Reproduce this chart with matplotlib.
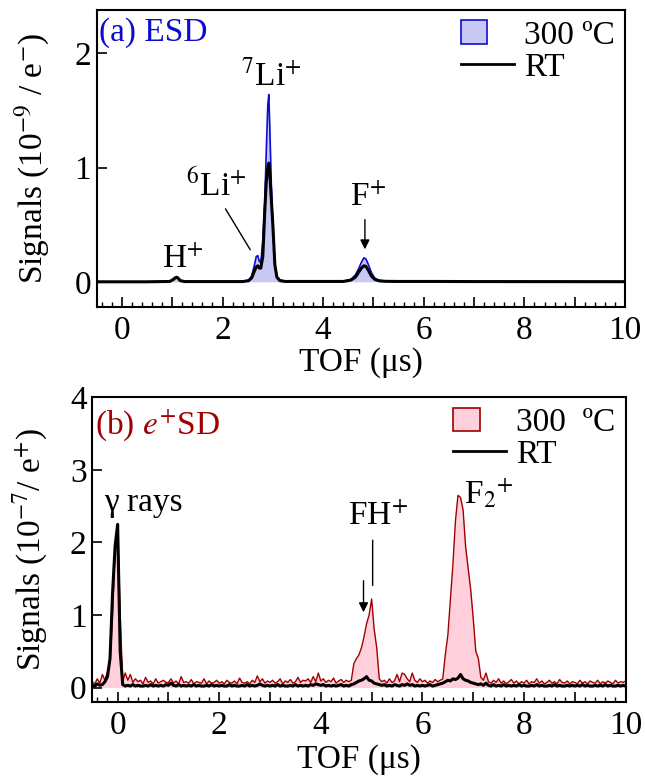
import numpy as np
import matplotlib
matplotlib.use("Agg")
import matplotlib.pyplot as plt
import matplotlib.patches as mpatches
from matplotlib.lines import Line2D
from matplotlib.legend_handler import HandlerPatch
from matplotlib.ticker import MultipleLocator, FuncFormatter

plt.rcParams['font.family'] = ['Liberation Serif', 'DejaVu Serif']
plt.rcParams['mathtext.fontset'] = 'stix'

# ---- (a) ESD spectra ----
tof_a = [-0.5, 0.5, 0.95, 1.02, 1.06, 1.09, 1.12, 1.16, 1.25, 2.4, 2.52, 2.58, 2.63,
         2.67, 2.70, 2.73, 2.76, 2.80, 2.84, 2.87, 2.90, 2.92, 2.94, 2.97, 3.00, 3.04,
         3.08, 3.14, 3.25, 4.4, 4.55, 4.64, 4.70, 4.76, 4.81, 4.85, 4.90, 4.96, 5.03,
         5.12, 5.25, 5.5, 6.3, 7.0, 10.0]
esd_300 = [0, 0, 0.003, 0.02, 0.035, 0.042, 0.03, 0.01, 0.002, 0.002, 0.015, 0.05, 0.14,
           0.22, 0.23, 0.18, 0.17, 0.35, 0.7, 1.15, 1.55, 1.64, 1.35, 0.85, 0.5, 0.15,
           0.05, 0.015, 0.004, 0.004, 0.02, 0.06, 0.11, 0.17, 0.21, 0.2, 0.15, 0.08, 0.03,
           0.012, 0.006, 0.004, 0.004, 0.002, 0.001]
esd_rt = [0, 0, 0.003, 0.02, 0.035, 0.04, 0.03, 0.01, 0.002, 0.002, 0.01, 0.035, 0.09,
          0.13, 0.14, 0.12, 0.12, 0.22, 0.62, 0.88, 1.0, 1.04, 0.95, 0.72, 0.5, 0.15,
          0.04, 0.01, 0.003, 0.003, 0.015, 0.04, 0.08, 0.12, 0.14, 0.135, 0.1, 0.05, 0.02,
          0.008, 0.004, 0.003, 0.003, 0.002, 0.001]

# ---- (b) e+SD spectra, sampled every 0.05 us from -0.5 to 10 ----
tof_b = np.round(np.arange(-0.5, 10.001, 0.05), 2)
esd_b_300 = [
    0.08, 0.05, 0.12, 0.06, 0.18, 0.1, 0.22, 0.35, 1.0, 1.9,
    2.25, 1.0, 0.08, 0.2, 0.1, 0.18, 0.07, 0.12, 0.08, 0.1, 0.05, 0.14, 0.07, 0.09, 0.05, 0.12, 0.06, 0.08, 0.1, 0.07,
    0.07, 0.12, 0.06, 0.09, 0.05, 0.15, 0.07, 0.08, 0.06, 0.11, 0.05, 0.08, 0.07, 0.06, 0.12, 0.05, 0.09, 0.06, 0.07, 0.1,
    0.06, 0.08, 0.05, 0.1, 0.07, 0.06, 0.09, 0.05, 0.13, 0.07, 0.06, 0.08, 0.05, 0.1, 0.07, 0.16, 0.08, 0.12, 0.06, 0.09,
    0.07, 0.1, 0.06, 0.08, 0.12, 0.05, 0.09, 0.07, 0.11, 0.06, 0.08, 0.14, 0.07, 0.1, 0.09, 0.12, 0.07, 0.15, 0.08, 0.2,
    0.09, 0.12, 0.07, 0.1, 0.08, 0.13, 0.06, 0.09, 0.11, 0.07, 0.1, 0.08, 0.1, 0.33, 0.4, 0.45, 0.55, 0.7, 0.88, 1.0,
    1.22, 0.8, 0.55, 0.12, 0.08, 0.1, 0.06, 0.12, 0.07, 0.09, 0.18, 0.08, 0.2, 0.18, 0.12, 0.08, 0.2, 0.1, 0.07, 0.12,
    0.08, 0.1, 0.06, 0.09, 0.07, 0.11, 0.08, 0.1, 0.12, 0.45, 0.72, 1.2, 1.7, 2.3, 2.65, 2.62, 2.45, 1.94, 1.65, 1.35,
    0.95, 0.5, 0.4, 0.14, 0.1, 0.2, 0.08, 0.06, 0.1, 0.07, 0.12, 0.06, 0.09, 0.05, 0.08, 0.11, 0.06, 0.09, 0.05, 0.08,
    0.06, 0.1, 0.05, 0.08, 0.07, 0.12, 0.06, 0.09, 0.05, 0.07, 0.1, 0.06, 0.08, 0.05, 0.11, 0.07, 0.06, 0.09, 0.05, 0.08,
    0.07, 0.05, 0.1, 0.06, 0.08, 0.05, 0.09, 0.07, 0.06, 0.1, 0.05, 0.08, 0.06, 0.09, 0.07, 0.05, 0.1, 0.06, 0.08, 0.07,
    0.09]
esd_b_rt = [
    0.03, 0.02, 0.05, 0.03, 0.04, 0.08, 0.15, 0.4, 1.3, 1.95,
    2.25, 0.5, 0.04, 0.02, 0.03, 0.02, 0.04, 0.02, 0.03, 0.02, 0.02, 0.03, 0.02, 0.04, 0.02, 0.03, 0.02, 0.03, 0.02, 0.04,
    0.03, 0.06, 0.03, 0.02, 0.04, 0.02, 0.03, 0.02, 0.03, 0.02, 0.04, 0.02, 0.03, 0.02, 0.02, 0.03, 0.02, 0.04, 0.02, 0.03,
    0.02, 0.03, 0.02, 0.02, 0.04, 0.02, 0.03, 0.02, 0.02, 0.03, 0.02, 0.04, 0.02, 0.03, 0.02, 0.03, 0.05, 0.03, 0.02, 0.03,
    0.02, 0.03, 0.02, 0.04, 0.02, 0.03, 0.02, 0.02, 0.03, 0.02, 0.04, 0.02, 0.03, 0.02, 0.03, 0.02, 0.04, 0.03, 0.05, 0.04,
    0.03, 0.04, 0.02, 0.03, 0.02, 0.03, 0.02, 0.03, 0.04, 0.02, 0.03, 0.02, 0.04, 0.05, 0.07, 0.09, 0.1, 0.12, 0.15, 0.1,
    0.09, 0.06, 0.05, 0.04, 0.03, 0.04, 0.02, 0.03, 0.02, 0.04, 0.03, 0.02, 0.04, 0.03, 0.05, 0.03, 0.04, 0.02, 0.03, 0.02,
    0.03, 0.02, 0.03, 0.04, 0.02, 0.03, 0.04, 0.05, 0.06, 0.08, 0.1, 0.09, 0.12, 0.11, 0.13, 0.18, 0.12, 0.1, 0.09, 0.07,
    0.06, 0.05, 0.04, 0.05, 0.03, 0.06, 0.03, 0.02, 0.04, 0.02, 0.03, 0.02, 0.04, 0.02, 0.03, 0.02, 0.03, 0.02, 0.04, 0.02,
    0.03, 0.02, 0.02, 0.03, 0.02, 0.04, 0.02, 0.03, 0.02, 0.02, 0.03, 0.02, 0.04, 0.02, 0.03, 0.02, 0.02, 0.03, 0.02, 0.03,
    0.02, 0.03, 0.02, 0.04, 0.02, 0.03, 0.02, 0.02, 0.03, 0.02, 0.03, 0.02, 0.04, 0.02, 0.03, 0.02, 0.02, 0.03, 0.02, 0.03,
    0.02]

legend_labels_a = ['300 ºC', 'RT']
legend_labels_b = ['300  ºC', 'RT']

FS = 24
blue_fill, blue_line = '#c8c8f5', '#0c0cd0'
red_fill, red_line = '#ffcfdc', '#a00000'


def narrow_box(legend, orig_handle, xdescent, ydescent, width, height, fontsize):
    return mpatches.Rectangle((-xdescent, -ydescent), width * 0.5, height)


def style_axes(ax, ylim):
    ax.set_xlim(-0.5, 10)
    ax.set_ylim(*ylim)
    ax.xaxis.set_major_locator(MultipleLocator(1))
    ax.xaxis.set_minor_locator(MultipleLocator(0.2))
    ax.xaxis.set_major_formatter(FuncFormatter(lambda v, p: f'{v:.0f}' if round(v) % 2 == 0 else ''))
    ax.yaxis.set_major_locator(MultipleLocator(1))
    ax.tick_params(axis='x', which='major', direction='in', length=7, width=1.2, labelsize=FS, pad=6)
    ax.tick_params(axis='x', which='minor', direction='in', length=3.5, width=1.0)
    ax.tick_params(axis='y', which='major', direction='in', length=7, width=1.2, labelsize=FS, pad=4)
    for s in ax.spines.values():
        s.set_linewidth(1.5)
    ax.set_xlabel('TOF (μs)', fontsize=FS)


def add_legend(ax, fill, edge, labels):
    patch = mpatches.Patch(facecolor=fill, edgecolor=edge, linewidth=1.2)
    line = Line2D([], [], color='black', linewidth=2)
    ax.legend([patch, line], labels, loc='upper right', frameon=False, fontsize=FS,
              handlelength=1.6, handletextpad=0.3, labelspacing=0.05,
              borderaxespad=0.1, borderpad=0.2,
              handler_map={mpatches.Patch: HandlerPatch(patch_func=narrow_box)})


fig = plt.figure(figsize=(6.45, 7.77), dpi=100)

# ---------------- panel (a) ----------------
ax1 = fig.add_axes([0.150, 0.605, 0.819, 0.382])
ax1.fill_between(tof_a, 0, esd_300, color=blue_fill, linewidth=0)
ax1.plot(tof_a, esd_300, color=blue_line, linewidth=1.2)
ax1.plot(tof_a, esd_rt, color='black', linewidth=2.2)
style_axes(ax1, (-0.22, 2.38))
ax1.set_ylabel('Signals (10$^{-9}$ / e$^{-}$)', fontsize=FS)
ax1.yaxis.set_label_coords(-0.085, 0.5)
ax1.xaxis.set_label_coords(0.5, -0.135)
add_legend(ax1, blue_fill, blue_line, legend_labels_a)

ax1.text(0.005, 0.925, '(a) ESD', transform=ax1.transAxes, color=blue_line,
         fontsize=FS, ha='left', va='center')
ax1.text(2.98, 1.8, '$^{7}$Li$^{+}$', fontsize=FS, ha='center', va='center')
ax1.text(1.87, 0.84, '$^{6}$Li$^{+}$', fontsize=FS, ha='center', va='center')
ax1.text(4.9, 0.74, 'F$^{+}$', fontsize=FS, ha='center', va='center')
ax1.text(1.2, 0.2, 'H$^{+}$', fontsize=FS, ha='center', va='center')
ax1.annotate('', xy=(2.58, 0.26), xytext=(2.03, 0.66),
             arrowprops=dict(arrowstyle='-', color='black', lw=1))
ax1.annotate('', xy=(4.83, 0.26), xytext=(4.83, 0.57),
             arrowprops=dict(arrowstyle='-|>', color='black', lw=1, mutation_scale=14))

# ---------------- panel (b) ----------------
ax2 = fig.add_axes([0.143, 0.0965, 0.827, 0.392])
ax2.fill_between(tof_b, 0, esd_b_300, color=red_fill, linewidth=0)
ax2.plot(tof_b, esd_b_300, color=red_line, linewidth=1.0)
ax2.plot(tof_b, esd_b_rt, color='black', linewidth=2.2)
style_axes(ax2, (-0.2, 4.0))
ax2.set_ylabel('Signals (10$^{-7}$/ e$^{+}$)', fontsize=FS)
ax2.yaxis.set_label_coords(-0.079, 0.5)
ax2.xaxis.set_label_coords(0.5, -0.14)
add_legend(ax2, red_fill, red_line, legend_labels_b)

ax2.text(0.005, 0.91, '(b) $e^{+}$SD', transform=ax2.transAxes, color=red_line,
         fontsize=FS, ha='left', va='center')
ax2.text(0.5, 2.55, 'γ rays', fontsize=FS, ha='center', va='center')
ax2.text(5.12, 2.36, 'FH$^{+}$', fontsize=FS, ha='center', va='center')
ax2.text(7.3, 2.68, 'F$_{2}$$^{+}$', fontsize=FS, ha='center', va='center')
ax2.annotate('', xy=(5.02, 1.37), xytext=(5.02, 2.07),
             arrowprops=dict(arrowstyle='-', color='black', lw=1))
ax2.annotate('', xy=(4.84, 1.0), xytext=(4.84, 1.51),
             arrowprops=dict(arrowstyle='-|>', color='black', lw=1, mutation_scale=14))

fig.savefig('out.png', dpi=100)
